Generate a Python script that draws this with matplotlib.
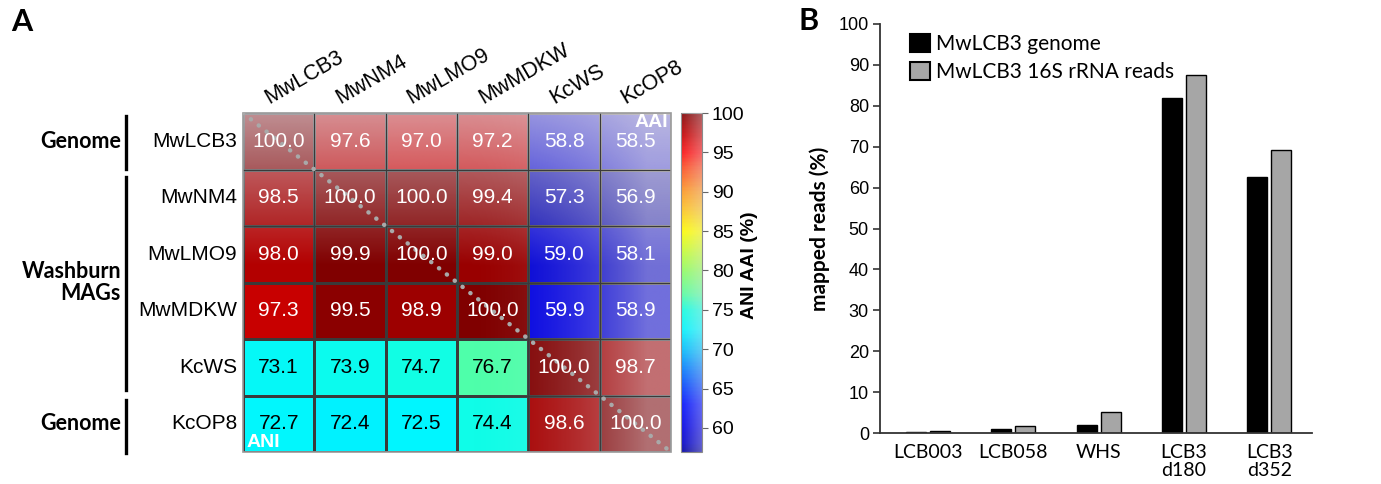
import numpy as np
import matplotlib
matplotlib.use("Agg")
import matplotlib.pyplot as plt
from matplotlib.colors import LinearSegmentedColormap, Normalize, to_rgb
from matplotlib.cm import ScalarMappable
from matplotlib.patches import Rectangle
from matplotlib.lines import Line2D

# ---------------- data ----------------
genomes = ["MwLCB3", "MwNM4", "MwLMO9", "MwMDKW", "KcWS", "KcOP8"]
row_mwlcb3 = [100.0, 97.6, 97.0, 97.2, 58.8, 58.5]
row_mwnm4 = [98.5, 100.0, 100.0, 99.4, 57.3, 56.9]
row_mwlmo9 = [98.0, 99.9, 100.0, 99.0, 59.0, 58.1]
row_mwmdkw = [97.3, 99.5, 98.9, 100.0, 59.9, 58.9]
row_kcws = [73.1, 73.9, 74.7, 76.7, 100.0, 98.7]
row_kcop8 = [72.7, 72.4, 72.5, 74.4, 98.6, 100.0]
group_names = ["Genome", "Washburn\nMAGs", "Genome"]
group_rows = [(0, 0), (1, 4), (5, 5)]
cbar_ticks = [60, 65, 70, 75, 80, 85, 90, 95, 100]

samples = ["LCB003", "LCB058", "WHS", "LCB3\nd180", "LCB3\nd352"]
genome_mapped = [0.25, 0.9, 1.9, 82.0, 62.5]
rrna_mapped = [0.5, 1.8, 5.2, 87.5, 69.1]
series_names = ["MwLCB3 genome", "MwLCB3 16S rRNA reads"]
b_yticks = list(range(0, 101, 10))

identity = np.array([row_mwlcb3, row_mwnm4, row_mwlmo9, row_mwmdkw, row_kcws, row_kcop8])

# ---------------- figure ----------------
W, H = 1381, 484
fig = plt.figure(figsize=(W / 100, H / 100), dpi=100)

def fx(x):
    return x / W

def fy(y):
    return 1 - y / H

ARIAL = ["Liberation Sans", "DejaVu Sans"]
CALIBRI = ["Lato", "DejaVu Sans"]

# colormap (jet-like, ending in dark red)
vmin, vmax = 56.95, 100.0
anchors = [
    (56.95, "#0000a4"), (58.0, "#0000c8"), (60, "#0000e4"), (63, "#0010ff"),
    (67, "#0070ff"), (70, "#00c0ff"), (72.5, "#00f6ff"), (75, "#14ffe0"),
    (77, "#58ffa0"), (80, "#90ff60"), (85, "#ffff00"), (88, "#ffc020"),
    (90, "#ff9a20"), (93, "#ff5020"), (95, "#ff1010"), (97.3, "#c80000"),
    (99.5, "#900000"), (100.0, "#800000"),
]
cmap = LinearSegmentedColormap.from_list(
    "aniaai", [((v - vmin) / (vmax - vmin), c) for v, c in anchors])
norm = Normalize(vmin=vmin, vmax=vmax)

# ---------------- panel A heatmap ----------------
hx0, hx1, hy0, hy1 = 243, 671, 113, 452
axA = fig.add_axes([fx(hx0), fy(hy1), fx(hx1) - fx(hx0), fy(hy0) - fy(hy1)])
n = len(genomes)
axA.pcolormesh(np.arange(n + 1), np.arange(n + 1), identity, cmap=cmap, norm=norm,
               edgecolors="#3a3a3a", linewidth=0.8)
axA.set_xlim(0, n)
axA.set_ylim(n, 0)
axA.axis("off")

# light "sheen" overlay
S = 60
gx = (np.arange(n * S) + 0.5) / S
X, Y = np.meshgrid(gx, gx)
a_top = 0.64 * np.clip(1 - Y / 2.7, 0, None)
a_right = np.clip(0.44 * np.clip((X - 3) / 2.5, 0, None) ** 2, 0, 0.5)
alpha = 1 - (1 - a_top) * (1 - a_right)
ov = np.zeros((n * S, n * S, 4))
ov[..., :3] = to_rgb("#e4e0e6")
ov[..., 3] = alpha
axA.imshow(ov, extent=(0, n, n, 0), aspect="auto", zorder=2, interpolation="bilinear")
for k in range(1, n):
    axA.plot([k, k], [0, n], color="#3a3a3a", lw=0.8, zorder=3)
    axA.plot([0, n], [k, k], color="#3a3a3a", lw=0.8, zorder=3)
axA.add_patch(Rectangle((0, 0), n, n, fill=False, ec="#9a9a9a", lw=1.2, zorder=3, clip_on=False))

# diagonal dotted line
axA.plot([0, n], [0, n], color="#a9a9a9", lw=3.2, linestyle=(0, (0.05, 2.2)),
         dash_capstyle="round", zorder=4)

for i in range(n):
    for j in range(n):
        v = identity[i, j]
        col = "black" if 65 < v < 90 else "white"
        axA.text(j + 0.5, i + 0.5, f"{v:.1f}", ha="center", va="center",
                 fontsize=15, color=col, family=ARIAL, zorder=5)

axA.text(n - 0.04, 0.02, "AAI", ha="right", va="top", color="white",
         fontsize=14, fontweight="bold", family=ARIAL, zorder=5)
axA.text(0.05, n - 0.02, "ANI", ha="left", va="bottom", color="white",
         fontsize=14, fontweight="bold", family=ARIAL, zorder=5)

# row labels
for i, g in enumerate(genomes):
    axA.text(-0.08, i + 0.5, g, ha="right", va="center", fontsize=15, family=ARIAL)
# column labels
for j, g in enumerate(genomes):
    axA.text(j + 0.4, -0.09, g, ha="left", va="bottom", rotation=30,
             rotation_mode="anchor", fontsize=15.5, family=ARIAL)

# group labels and bars
row_h = (hy1 - hy0) / n
bar_spans = [(116, 169), (177, 390), (400, 453)]
for name, (r0, r1), (b0, b1) in zip(group_names, group_rows, bar_spans):
    fig.add_artist(Line2D([fx(126), fx(126)], [fy(b0), fy(b1)], color="black", lw=2.4))
    yc = hy0 + row_h * (r0 + r1 + 1) / 2
    fig.text(fx(121), fy(yc), name, ha="right", va="center", multialignment="right",
             fontsize=15.5, fontweight="bold", family=CALIBRI, linespacing=1.0)

# colorbar
cax = fig.add_axes([fx(681), fy(hy1), fx(702) - fx(681), fy(hy0) - fy(hy1)])
cb = fig.colorbar(ScalarMappable(norm=norm, cmap=cmap), cax=cax)
cb.set_ticks(cbar_ticks)
cb.outline.set_edgecolor("#8a8a8a")
cb.outline.set_linewidth(0.8)
cax.tick_params(labelsize=14, length=4, width=0.8, color="#666666", pad=3)
for t in cax.get_yticklabels():
    t.set_family(ARIAL)
cg = np.zeros((2, 50, 4))
cg[..., :3] = to_rgb("#e4e0e6")
cg[..., 3] = np.linspace(0.1, 0.42, 50)[None, :]
cax.imshow(cg, extent=(0, 1, vmin, vmax), aspect="auto", zorder=3, interpolation="bilinear")
cax.set_xlim(0, 1)
cax.set_ylim(vmin, vmax)
fig.text(fx(749), fy(265), "ANI AAI (%)", rotation=90, ha="center", va="center",
         fontsize=14, fontweight="bold", family=ARIAL)

fig.text(fx(22), fy(22), "A", ha="center", va="center", fontsize=22,
         fontweight="bold", family=CALIBRI)
fig.text(fx(809), fy(21), "B", ha="center", va="center", fontsize=22,
         fontweight="bold", family=CALIBRI)

# ---------------- panel B bars ----------------
bx0, bx1, by0, by1 = 880, 1312, 24, 433
axB = fig.add_axes([fx(bx0), fy(by1), fx(bx1) - fx(bx0), fy(by0) - fy(by1)])
x = np.arange(len(samples))
bw = 0.234
axB.bar(x - 0.14, genome_mapped, bw, color="black", edgecolor="black", lw=1.0,
        label=series_names[0])
axB.bar(x + 0.14, rrna_mapped, bw, color="#a6a6a6", edgecolor="black", lw=1.0,
        label=series_names[1])
axB.set_xlim(-0.56, 4.5)
axB.set_ylim(0, 100)
axB.set_yticks(b_yticks)
axB.set_xticks(x)
axB.set_xticklabels(samples)
for s in ["top", "right"]:
    axB.spines[s].set_visible(False)
for s in ["left", "bottom"]:
    axB.spines[s].set_color("#333333")
    axB.spines[s].set_linewidth(1.3)
axB.tick_params(axis="y", direction="out", length=5, width=1.2, color="#333333",
                labelsize=13, pad=3)
axB.tick_params(axis="x", length=0, labelsize=14, pad=8)
for t in axB.get_yticklabels():
    t.set_family(ARIAL)
for t in axB.get_xticklabels():
    t.set_family(CALIBRI)
    t.set_linespacing(1.05)
axB.set_ylabel("mapped reads (%)", fontsize=15, fontweight="bold", family=CALIBRI,
               labelpad=6)
leg = axB.legend(loc="upper left", bbox_to_anchor=(0.07, 0.975), frameon=False,
                 handlelength=0.95, handleheight=0.95, handletextpad=0.3,
                 labelspacing=0.38, borderpad=0, borderaxespad=0,
                 prop={"family": CALIBRI, "size": 15})
for p in leg.get_patches():
    p.set_edgecolor("black")
    p.set_linewidth(1.5)

fig.savefig("out.png", dpi=100)
